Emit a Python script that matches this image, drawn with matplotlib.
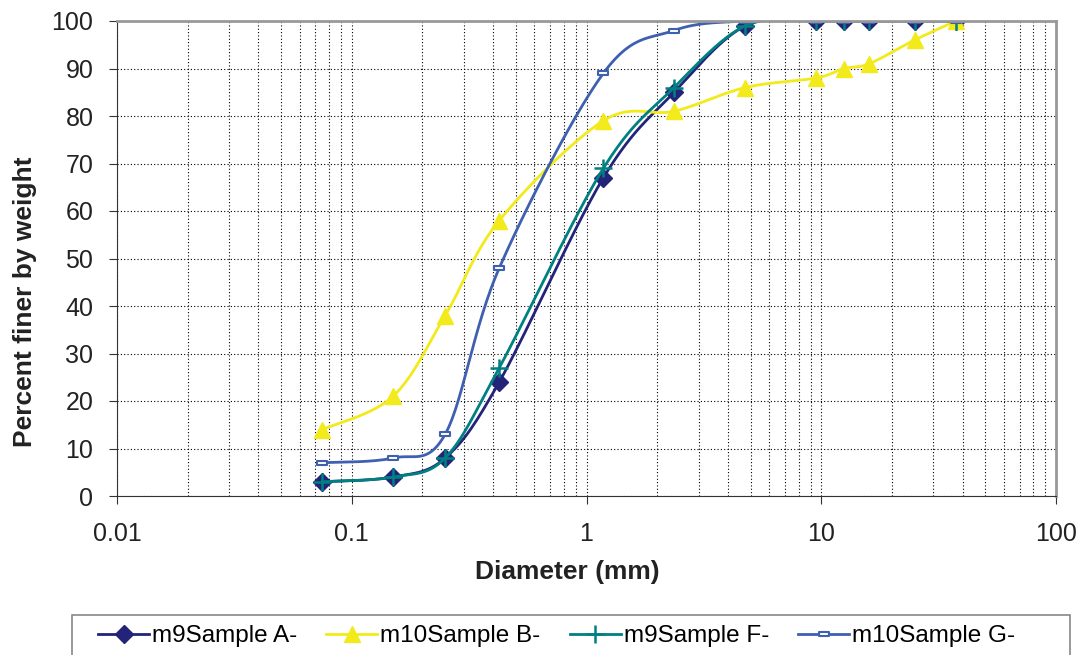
import numpy as np
import matplotlib
matplotlib.use('Agg')
import matplotlib.pyplot as plt
from matplotlib.ticker import FixedLocator, FixedFormatter, LogLocator, NullFormatter
from matplotlib.path import Path
from matplotlib.patches import Rectangle

plt.rcParams['font.family'] = ['Liberation Sans', 'DejaVu Sans']

# sieve sizes (mm)
diameter = [0.075, 0.15, 0.25, 0.425, 1.18, 2.36, 4.75, 9.5, 12.5, 16, 25, 37.5]

sample_a = [3, 4, 8, 24, 67, 85, 99, 100, 100, 100, 100, 100]
sample_b = [14, 21, 38, 58, 79, 81, 86, 88, 90, 91, 96, 100]
sample_f = [3, 4, 8, 27, 69, 86, 99, 100, 100, 100, 100, 100]
sample_g = [7, 8, 13, 48, 89, 98, 100, 100, 100, 100, 100, 100]

labels = ['m9Sample A-', 'm10Sample B-', 'm9Sample F-', 'm10Sample G-']
colors = ['#23237a', '#f2ea1a', '#008080', '#3f5fb0']


def smooth(xs, ys, n=30):
    # Excel style smoothed line: Catmull-Rom in log-x space
    lx = np.log10(xs)
    ys = np.asarray(ys, dtype=float)
    px = np.concatenate([[lx[0]], lx, [lx[-1]]])
    py = np.concatenate([[ys[0]], ys, [ys[-1]]])
    outx, outy = [], []
    t = np.linspace(0, 1, n)
    for i in range(1, len(px) - 2):
        p0, p1, p2, p3 = (np.array([px[j], py[j]]) for j in range(i - 1, i + 3))
        c1 = p1 + (p2 - p0) / 6.0
        c2 = p2 - (p3 - p1) / 6.0
        for tt in t:
            b = ((1 - tt) ** 3 * p1 + 3 * (1 - tt) ** 2 * tt * c1
                 + 3 * (1 - tt) * tt ** 2 * c2 + tt ** 3 * p2)
            outx.append(b[0])
            outy.append(b[1])
    return 10 ** np.array(outx), np.array(outy)


dash = Path([(-1, -0.45), (1, -0.45), (1, 0.45), (-1, 0.45), (-1, -0.45)],
            [Path.MOVETO, Path.LINETO, Path.LINETO, Path.LINETO, Path.CLOSEPOLY])

fig = plt.figure(figsize=(10.85, 6.55), dpi=100)
ax = fig.add_axes([117 / 1085, 159 / 655, 939 / 1085, 475 / 655])

styles = [
    dict(marker='D', ms=9, mfc=colors[0], mec=colors[0]),
    dict(marker='^', ms=11, mfc=colors[1], mec=colors[1]),
    dict(marker='+', ms=13, mew=1.8, mec=colors[2]),
    dict(marker=dash, ms=7, mfc='white', mec=colors[3], mew=1.5),
]

handles = []
for ys, c, lab, st in zip([sample_a, sample_b, sample_f, sample_g], colors, labels, styles):
    sx, sy = smooth(diameter, ys)
    ax.plot(sx, sy, color=c, lw=2)
    ax.plot(diameter, ys, ls='none', **st)
    h, = ax.plot([], [], color=c, lw=2, **st)
    handles.append(h)

ax.set_xscale('log')
ax.set_xlim(0.01, 100)
ax.set_ylim(0, 100)
ax.xaxis.set_major_locator(FixedLocator([0.01, 0.1, 1, 10, 100]))
ax.xaxis.set_major_formatter(FixedFormatter(['0.01', '0.1', '1', '10', '100']))
ax.xaxis.set_minor_locator(LogLocator(base=10, subs=np.arange(2, 10)))
ax.xaxis.set_minor_formatter(NullFormatter())
ax.set_yticks(np.arange(0, 101, 10))

ax.grid(True, which='both', axis='x', color='black', ls=(0, (1, 2)), lw=0.8)
ax.grid(True, which='major', axis='y', color='black', ls=(0, (1, 2)), lw=0.8)
ax.set_axisbelow(True)

ax.tick_params(axis='both', which='major', labelsize=18, direction='out', length=6,
               color='#333333', labelcolor='#222222')
ax.tick_params(axis='y', which='major', pad=11)
ax.tick_params(axis='x', which='major', pad=13)
ax.tick_params(axis='x', which='minor', length=0)
for s in ['top', 'right']:
    ax.spines[s].set_color('#999999')
    ax.spines[s].set_linewidth(2)
for s in ['left', 'bottom']:
    ax.spines[s].set_color('#333333')

ax.set_xlabel('Diameter (mm)', fontsize=19, fontweight='bold', color='#222222')
ax.set_ylabel('Percent finer by weight', fontsize=19, fontweight='bold', color='#222222')
ax.xaxis.set_label_coords(450 / 939, -76 / 475)
ax.xaxis.label.set_va('center')
ax.yaxis.set_label_coords(-92 / 939, 194 / 475)
ax.yaxis.label.set_va('center')

# legend box (cut off by the bottom edge like the original)
fig.patches.append(Rectangle((72 / 1085, -0.1), 998 / 1085, 40 / 655 + 0.1,
                             transform=fig.transFigure, fill=False,
                             edgecolor='#888888', lw=1.2))
fig.legend(handles=handles, labels=labels, loc='center left', ncol=4,
           bbox_to_anchor=(98 / 1085, 1 - 636 / 655),
           fontsize=17.5, frameon=False, borderpad=0, borderaxespad=0,
           handlelength=2.1, handletextpad=0.12, columnspacing=1.2)

fig.savefig('out.png', dpi=100)
